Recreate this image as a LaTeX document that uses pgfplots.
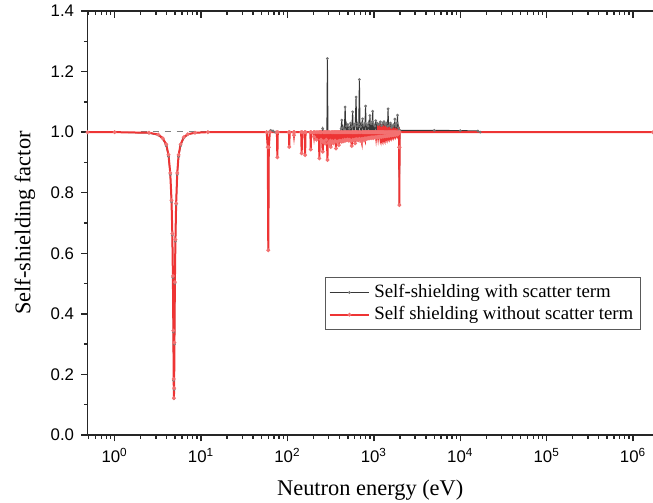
\documentclass[border=0pt]{standalone}
\usepackage{fontspec}
\setmainfont{Liberation Serif}
\newfontfamily\arial{Liberation Sans}
\usepackage{pgfplots}
\pgfplotsset{compat=1.18}
\definecolor{myred}{RGB}{238,52,52}
\definecolor{mygray}{RGB}{55,55,55}
\newcommand\tp[1]{10\textsuperscript{#1}}
\begin{document}
\begin{tikzpicture}
\begin{axis}[
  name=ax,
  scale only axis, width=282.75pt, height=212pt,
  xmode=log, xmin=0.485, xmax=1.7e6, ymin=0, ymax=1.4,
  axis x line*=bottom, axis y line*=left,
  axis line style={-, line width=0.8pt, black!85},
  tick style={line width=0.7pt, black!85},
  tick align=outside,
  major tick length=3.2pt, minor tick length=1.8pt,
  xtick={1,10,100,1000,10000,100000,1000000},
  xticklabels={\tp{0},\tp{1},\tp{2},\tp{3},\tp{4},\tp{5},\tp{6}},
  minor xtick={0.5,0.6,0.7,0.8,0.9,2,3,4,5,6,7,8,9,20,30,40,50,60,70,80,90,200,300,400,500,600,700,800,900,2000,3000,4000,5000,6000,7000,8000,9000,20000,30000,40000,50000,60000,70000,80000,90000,200000,300000,400000,500000,600000,700000,800000,900000},
  ytick={0,0.2,0.4,0.6,0.8,1.0,1.2,1.4},
  minor y tick num=1,
  yticklabel style={/pgf/number format/.cd, fixed, fixed zerofill, precision=1, assume math mode=true},
  ticklabel style={font=\arial\fontsize{8.4}{10}\selectfont},
  every axis x label/.style={at={(axis description cs:0.5,-0.1297)}, anchor=center},
  every axis y label/.style={at={(axis description cs:-0.1105,0.5)}, rotate=90, anchor=center},
  label style={font=\fontsize{11.2}{13}\selectfont},
  xlabel={Neutron energy (eV)},
  ylabel={Self-shielding factor},
  legend style={at={(0.42,0.373)}, anchor=north west, draw=black!65, line width=0.5pt,
    font=\fontsize{9.4}{11}\selectfont, inner sep=1.5pt, row sep=-1pt, cells={anchor=west}},
  legend image code/.code={\draw[mark repeat=2,mark phase=2] plot coordinates {(0cm,0cm) (0.35cm,0cm) (0.7cm,0cm)};},
]
\addplot[gray, dashed, line width=0.3pt, forget plot] coordinates {(2,1.003) (300,1.003)};
\addplot[mygray, line width=0.5pt, mark=*, mark size=0.4pt, mark options={fill=mygray!70, draw=mygray!70}] coordinates {
(0.485,1.0) (1.0,1.0) (2.5,0.997) (3.2,0.99) (3.6,0.978) (3.95,0.955) (4.2,0.92) (4.4,0.86) (4.55,0.77) (4.65,0.66) (4.72,0.52) (4.78,0.34) (4.82,0.18) (4.85,0.12) (4.88,0.15) (4.92,0.30) (4.98,0.50) (5.05,0.64) (5.15,0.76) (5.3,0.86) (5.5,0.92) (5.8,0.955) (6.3,0.98) (7.0,0.992) (8.5,0.998) (12,1.0)
(57.5,1.0) (59.2,0.95) (60,0.61) (60.8,0.95) (62,1.003) (64,1.006) (68,1.004) (72,1.0)
(250,1.0) (256,1.012) (262,1.0) (286,1.0) (290,1.243) (294,1.0)
(410,1.0) (417,1.012) (425,1.04) (432,1.0) (440,1.015) (448,1.0) (456,1.008) (465,1.083) (474,1.0) (482,1.02) (491,1.0) (500,1.025) (510,1.0) (519,1.012) (528,1.0) (537,1.03) (547,1.0) (557,1.018) (568,1.067) (578,1.0) (588,1.022) (598,1.0) (610,1.028) (622,1.116) (634,1.0) (646,1.02) (658,1.0) (669,1.026) (680,1.174) (692,1.0) (704,1.018) (716,1.0) (728,1.03) (740,1.044) (752,1.0) (765,1.022) (778,1.0) (790,1.03) (802,1.086) (815,1.0) (828,1.025) (842,1.0) (856,1.02) (870,1.03) (885,1.0) (900,1.055) (915,1.0) (930,1.028) (945,1.0) (958,1.035) (970,1.069) (985,1.0) (1000,1.025) (1015,1.0) (1030,1.02) (1050,1.038) (1068,1.0) (1086,1.03) (1104,1.0) (1122,1.025) (1140,1.0) (1160,1.028) (1175,1.0) (1190,1.034) (1208,1.0) (1228,1.022) (1248,1.0) (1268,1.03) (1290,1.0) (1310,1.035) (1332,1.0) (1354,1.025) (1376,1.0) (1398,1.03) (1420,1.0) (1440,1.02) (1460,1.077) (1482,1.0) (1505,1.022) (1528,1.0) (1550,1.03) (1572,1.0) (1595,1.015) (1610,1.021) (1632,1.0) (1655,1.02) (1678,1.0) (1700,1.025) (1725,1.0) (1750,1.043) (1775,1.0) (1800,1.02) (1825,1.0) (1850,1.03) (1880,1.056) (1905,1.0) (1930,1.015) (1950,1.006) (1960,0.95) (1973,0.76) (1986,0.95) (2000,1.006) (5000,1.006) (10000,1.005) (16000,1.004) (17000,1.0) (1.7e6,1.0)
};
\addlegendentry{Self-shielding with scatter term}
\addplot[myred, line width=1pt, mark=*, mark size=0.35pt, mark options={fill=myred!70, draw=myred!70}] coordinates {
(0.485,1.0) (1.0,1.0) (2.5,0.998) (3.2,0.992) (3.6,0.98) (3.95,0.96) (4.2,0.925) (4.4,0.865) (4.55,0.775) (4.65,0.665) (4.72,0.525) (4.78,0.345) (4.82,0.185) (4.85,0.122) (4.88,0.155) (4.92,0.305) (4.98,0.505) (5.05,0.645) (5.15,0.765) (5.3,0.865) (5.5,0.925) (5.8,0.96) (6.3,0.983) (7.0,0.993) (8.5,0.998) (12,1.0)
(57.5,1.0) (59.2,0.95) (60,0.61) (60.8,0.95) (62.5,1.0)
(75.5,1.0) (76.4,0.917) (77.3,1.0)
(104,1.0) (105,0.951) (106,1.0)
(118,1.0) (119,0.99) (120,1.0)
(144,1.0) (146,0.93) (148,1.0)
(158,1.0) (160,0.924) (162,1.0)
(184,1.0) (186,0.943) (188,1.0)
(200,1.0) (203,0.985) (206,1.0)
(214,1.0) (217,0.975) (220,1.0)
(231,1.0) (234,0.913) (237,1.0)
(240,1.0) (244,0.975) (248,1.0) (252,0.968) (256,0.935) (260,1.0) (264,0.97) (268,1.0) (272,0.962) (276,1.0) (281,0.975) (286,1.0) (290,0.908) (294,1.0) (298,0.965) (302,1.0) (306,0.96) (310,1.0) (313,0.972) (317,0.951) (321,1.0) (325,0.966) (329,1.0) (333,0.97) (336,1.0) (340,0.963) (344,1.0) (348,0.968) (352,1.0) (356,0.972) (360,1.0) (365,0.946) (370,1.0) (375,0.968) (380,1.0) (386,0.97) (390,1.0) (393,0.957) (398,1.0) (403,0.972) (408,1.0) (414,0.97) (419,1.0) (425,0.968) (430,1.0) (436,0.973) (442,1.0) (448,0.97) (454,1.0) (460,0.975) (466,1.0) (472,0.972) (478,1.0) (485,0.974) (491,1.0) (498,0.976) (504,1.0) (511,0.972) (518,1.0) (525,0.975) (532,1.0) (540,0.97) (547,1.0) (555,0.954) (562,1.0) (570,0.975) (578,1.0) (586,0.973) (594,1.0) (600,0.975) (606,0.963) (614,1.0) (622,0.977) (630,1.0) (638,0.974) (646,1.0) (654,0.976) (662,0.974) (670,1.0) (679,0.978) (688,1.0) (697,0.975) (706,1.0) (715,0.977) (725,0.968) (735,1.0) (745,0.978) (755,1.0) (765,0.976) (775,1.0) (781,0.979) (791,0.974) (801,1.0) (812,0.98) (823,1.0) (834,0.978) (845,1.0) (857,0.981) (868,1.0) (880,0.979) (892,1.0) (904,0.982) (916,1.0) (928,0.98) (941,1.0) (953,0.983) (966,1.0) (979,0.98) (992,1.0) (1005,0.983) (1019,1.0) (1033,0.982) (1047,1.0) (1061,0.984) (1075,1.0) (1090,0.982) (1105,1.0) (1120,0.985) (1135,1.0) (1150,0.983) (1166,1.0) (1182,0.986) (1198,1.0) (1214,0.984) (1231,1.0) (1248,0.986) (1265,1.0) (1282,0.985) (1300,1.0) (1318,0.987) (1336,1.0) (1354,0.986) (1372,1.0) (1391,0.988) (1410,1.0) (1430,0.987) (1449,1.0) (1469,0.989) (1489,1.0) (1510,0.988) (1530,1.0) (1551,0.99) (1572,1.0) (1594,0.989) (1616,1.0) (1638,0.991) (1660,1.0) (1683,0.99) (1706,1.0) (1730,0.992) (1753,1.0) (1777,0.991) (1802,1.0) (1826,0.993) (1851,1.0) (1876,0.992) (1902,1.0) (1930,0.995) (1955,1.0) (1963,0.95) (1973,0.759) (1983,0.95) (1992,1.0) (1.7e6,1.0)
};
\addlegendentry{Self shielding without scatter term}
\end{axis}
\begin{axis}[
  scale only axis, width=282.75pt, height=212pt,
  xmode=log, xmin=0.485, xmax=1.7e6, ymin=0, ymax=1.4,
  axis x line*=top, axis y line=none,
  axis line style={-, line width=0.8pt, black!85},
  tick style={line width=0.7pt, black!85},
  tick align=inside,
  major tick length=3.6pt, minor tick length=2pt,
  xtick={1,10,100,1000,10000,100000,1000000},
  xticklabels={},
  minor xtick={0.5,0.6,0.7,0.8,0.9,2,3,4,5,6,7,8,9,20,30,40,50,60,70,80,90,200,300,400,500,600,700,800,900,2000,3000,4000,5000,6000,7000,8000,9000,20000,30000,40000,50000,60000,70000,80000,90000,200000,300000,400000,500000,600000,700000,800000,900000},
  ytick=\empty,
]
\end{axis}
\pgfresetboundingbox
\path ([xshift=-43.75pt,yshift=-34pt]ax.south west) rectangle ([yshift=5.5pt]ax.north east);
\end{tikzpicture}
\end{document}
